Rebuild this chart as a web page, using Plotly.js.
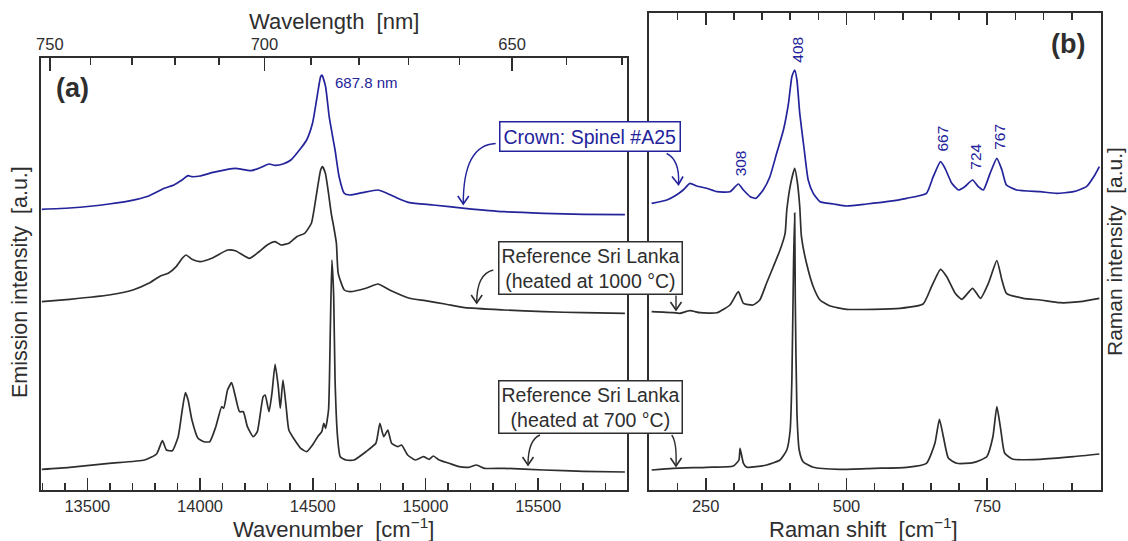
<!DOCTYPE html>
<html><head><meta charset="utf-8">
<script src="https://cdn.plot.ly/plotly-3.0.1.min.js"></script>
<style>html,body{margin:0;padding:0;background:#fff}#chart{width:1128px;height:541px}</style>
</head><body><div id="chart"></div>
<script>
// ---------- DATA (intensities in arbitrary units) ----------
// (a) Emission spectra: x = wavenumber [cm-1]
const crownEmWn = [13298,13421,13596,13719,13772,13842,13884,13920,13947,13964,14000,14052,14122,14157,14227,14271,14306,14333,14368,14403,14447,14473,14499,14517,14535,14541,14557,14573,14587,14599,14617,14640,14665,14719,14789,14824,14877,14929,15034,15175,15350,15525,15701,15885];
const crownEmI = [280.7,282,286,290.7,294,301.7,305,310,314.3,313.3,314,317.3,320.7,321.7,319.3,322.7,326,324.7,326,330,341.7,350,366.7,390,413.3,415,403.3,373.3,355,340,313.3,296.7,295,297.3,300,297.3,291.7,287.3,285,281.7,278.3,276.7,275.7,275.3];

const ref1000EmWn = [13298,13421,13596,13702,13772,13824,13859,13894,13921,13938,13964,14000,14052,14122,14157,14219,14262,14298,14333,14359,14394,14429,14464,14494,14508,14522,14535,14543,14556,14570,14582,14593,14605,14613,14640,14665,14736,14789,14841,14929,14999,15087,15175,15350,15525,15701,15885];
const ref1000EmI = [188.3,190.7,195,200,206.7,214,216.7,223.3,231.7,235,230.7,228.3,231.7,240,239.3,231.7,238.3,245,248.3,245,246.7,253.3,256.7,266.7,283.3,303.3,320,323.3,316.7,296.7,276.7,263.3,246.7,216.7,200,198.3,201.7,206,200,191.7,189.3,186,182.3,180,178.3,177.3,176.7];

const ref700EmWn = [13298,13421,13596,13754,13807,13833,13851,13877,13903,13921,13935,13947,13964,13991,14017,14043,14070,14096,14105,14122,14140,14157,14175,14192,14210,14236,14254,14280,14289,14306,14319,14333,14347,14356,14368,14382,14394,14420,14447,14473,14499,14522,14540,14549,14557,14570,14578,14585,14593,14599,14610,14622,14648,14683,14736,14780,14798,14815,14833,14850,14877,14894,14921,14956,14991,15017,15035,15061,15105,15149,15192,15227,15262,15350,15525,15701,15885];
const ref700EmI = [20.7,22.7,26.7,30,36,49.3,40,39.3,53.3,80,97.3,90,70,51.7,48.3,48.3,63.3,83.3,81.7,100,107.3,93.3,78.3,78.3,63.3,53.3,58.3,93.3,95,78.3,96.7,125.7,103.3,81.7,110,83.3,60,50,41.7,38.3,45,53.3,58.3,66.7,61.7,80,160,230,193.3,110,53.3,33.3,30,30,38.3,46.7,66.7,53.3,60,46.7,43.3,45,35,30,33.3,30.7,34,30,26.7,23.3,22.7,25,21.7,21.7,20,18.7,18];

// (b) Raman spectra: x = Raman shift [cm-1]
const crownRamX = [154,181,198,210,222,234,252,270,293,308,317,329,339,352,364,376,388,397,403,408,412,417,425,432,441,453,477,500,536,571,607,642,654,667,675,687,699,710,724,734,743,755,767,776,784,802,844,873,903,926,941,949];
const crownRamI = [286.7,290,295,300,306.7,304,301.7,298.3,298.3,306,300,293.3,291.7,300,313.3,336.7,360,386.7,413.3,420,410,376.7,340,310,296.7,288.3,286,284,286,288.3,291.7,296.7,313.3,328.3,321.7,306.7,300,303.3,310,303.3,300,316.7,331.7,320,305,300,298.3,296.7,298.3,303.3,315,323.3];

const ref1000RamX = [154,192,204,222,240,270,293,308,317,334,346,358,370,382,391,394,401,408,413,417,420,429,441,453,471,500,548,595,636,651,667,678,693,705,724,738,752,767,776,784,814,844,879,915,949];
const ref1000RamI = [178.3,177.3,176.7,179.3,177.3,177.3,185,198.3,186.7,185,190,206.7,223.3,240,256.7,280,306.7,321.7,306.7,283.3,253.3,226.7,203.3,190,184,180.7,180.7,181.7,186,203.3,220.7,213.3,196.7,190.7,201.7,191.7,206.7,229.3,210,196.7,191.7,190,187.3,188.3,191.7];

const ref700RamX = [154,192,252,299,309,311,317,323,358,382,394,400,403,406,408,409,412,416,423,441,488,548,607,642,657,665,672,681,696,725,749,760,767,774,781,796,844,903,949];
const ref700RamI = [20,21.7,22.7,24,30,41.7,26.7,22.7,25,30,40,60,110,227,277,193.3,76.7,40,28.3,22.7,20.7,21.7,22.7,26.7,46.7,70.7,53.3,31.7,26.7,27.3,33.3,53.3,83.3,60,36.7,30.7,30.7,33.3,36];

// Tick labels / peak labels
const wavenumberTicks = [13500,14000,14500,15000,15500];
const wavelengthTicks = [750,700,650];
const wavelengthMinor = [740,730,720,710,690,680,670,660,640,630];
const ramanTicks = [250,500,750];
const ramanPeaks = [308,408,667,724,767];
const emissionPeakLabel = '687.8 nm';

// ---------- STYLE / LAYOUT ----------
const W = 1128, H = 541;
const fx = p => p / W, fy = p => 1 - p / H;
const BLUE = '#23239b', DARK = '#2e2e2e';
const FONT = 'Liberation Sans, Arial, Helvetica, sans-serif';

const A = {x0: 40.7, x1: 626.7, y0: 58.3, y1: 490};
const B = {x0: 649, x1: 1100.7, y0: 13, y1: 490};
const wnRange = [13293, 15893];
const ramRange = [149.3, 951.4];
const yRangeA = [0, A.y1 - A.y0];
const yRangeB = [0, B.y1 - B.y0];

const line = (c) => ({color: c, width: 1.7, shape: 'spline', smoothing: 0.5});
const traces = [
  {x: crownEmWn, y: crownEmI, xaxis: 'x', yaxis: 'y', mode: 'lines', line: line(BLUE)},
  {x: ref1000EmWn, y: ref1000EmI, xaxis: 'x', yaxis: 'y', mode: 'lines', line: line(DARK)},
  {x: ref700EmWn, y: ref700EmI, xaxis: 'x', yaxis: 'y', mode: 'lines', line: line(DARK)},
  {x: wavelengthTicks.map(l => 1e7 / l), y: wavelengthTicks.map(() => null), xaxis: 'x3', yaxis: 'y', mode: 'lines', hoverinfo: 'skip'},
  {x: crownRamX, y: crownRamI, xaxis: 'x2', yaxis: 'y2', mode: 'lines', line: line(BLUE)},
  {x: ref1000RamX, y: ref1000RamI, xaxis: 'x2', yaxis: 'y2', mode: 'lines', line: line(DARK)},
  {x: ref700RamX, y: ref700RamI, xaxis: 'x2', yaxis: 'y2', mode: 'lines', line: line(DARK)}
];

const tickFont = {family: FONT, size: 16.5, color: DARK};
const baseX = {
  showgrid: false, zeroline: false, showline: true, linecolor: DARK, linewidth: 2.2,
  ticks: 'inside', ticklen: 12, tickwidth: 1.7, tickcolor: DARK, tickfont: tickFont
};
const minorStyle = {ticks: 'inside', ticklen: 7, tickwidth: 1.5, tickcolor: DARK, showgrid: false};
const baseY = {
  showgrid: false, zeroline: false, showline: true, linecolor: DARK, linewidth: 2.2,
  mirror: true, ticks: '', showticklabels: false
};

const ann = (text, x, y, o = {}) => Object.assign({
  text, xref: 'paper', yref: 'paper', x: fx(x), y: fy(y), showarrow: false,
  xanchor: 'center', yanchor: 'middle', font: {family: FONT, size: 22, color: DARK}
}, o);

const annotations = [
  ann('Wavelength\u00a0 [nm]', (A.x0 + A.x1) / 2, 22),
  ann('Wavenumber\u00a0 [cm<sup>\u22121</sup>]', (A.x0 + A.x1) / 2, 528),
  ann('Raman shift\u00a0 [cm<sup>\u22121</sup>]', 863, 528),
  ann('Emission intensity\u00a0 [a.u.]', 20, 282, {textangle: -90, font: {family: FONT, size: 21.5, color: DARK}}),
  ann('Raman intensity\u00a0 [a.u.]', 1114, 252, {textangle: -90, font: {family: FONT, size: 21, color: DARK}}),
  ann('<b>(a)</b>', 72, 88, {font: {family: FONT, size: 27, color: DARK}}),
  ann('<b>(b)</b>', 1068, 44, {font: {family: FONT, size: 27, color: DARK}}),
  ann(emissionPeakLabel, 333, 82, {xanchor: 'left', font: {family: FONT, size: 15, color: BLUE}}),
  ann('Crown: Spinel #A25', 590, 136.5, {font: {family: FONT, size: 19.5, color: BLUE},
      bordercolor: BLUE, borderwidth: 1.5, borderpad: 3, bgcolor: '#ffffff'}),
  ann('Reference Sri Lanka<br>(heated at 1000 \u00b0C)', 590, 268, {font: {family: FONT, size: 19.5, color: DARK},
      bordercolor: DARK, borderwidth: 1.5, borderpad: 2, bgcolor: '#ffffff'}),
  ann('Reference Sri Lanka<br>(heated at 700 \u00b0C)', 590, 406.5, {font: {family: FONT, size: 19.5, color: DARK},
      bordercolor: DARK, borderwidth: 1.5, borderpad: 2, bgcolor: '#ffffff'})
];
const peakLabelY = {308: 163, 408: 50, 667: 139, 724: 157, 767: 137};
ramanPeaks.forEach(p => annotations.push({
  text: String(p), xref: 'x2', yref: 'paper', x: p, y: fy(peakLabelY[p]), xshift: 2,
  showarrow: false, textangle: -90, xanchor: 'center', yanchor: 'middle',
  font: {family: FONT, size: 15.5, color: BLUE}
}));

// curved arrows (pixel geometry -> paper coords)
const P = (x, y) => `${fx(x)},${fy(y)}`;
const curve = (x0, y0, cx, cy, x1, y1, color) => ({
  type: 'path', xref: 'paper', yref: 'paper', layer: 'above',
  path: `M ${P(x0, y0)} Q ${P(cx, cy)} ${P(x1, y1)}`, line: {color, width: 1.4}
});
const head = (x, y, color, dx = 0) => ({
  type: 'path', xref: 'paper', yref: 'paper', layer: 'above',
  path: `M ${P(x - 5.5 + dx, y - 8)} L ${P(x, y)} L ${P(x + 5.5 + dx, y - 8)}`,
  line: {color, width: 1.6}
});
const shapes = [
  curve(495.7, 143.5, 463, 145, 463.3, 204, BLUE), head(463.3, 204, BLUE),
  curve(666.7, 153.5, 680, 160, 678.5, 184.5, BLUE), head(678.5, 184.5, BLUE, -1),
  curve(493.3, 270, 476.5, 274, 476.7, 303, DARK), head(476.7, 303, DARK),
  curve(676, 295.5, 676, 300, 676, 310, DARK), head(676, 310, DARK),
  curve(540, 435, 528, 440, 528, 465, DARK), head(528, 465, DARK),
  curve(671.7, 435, 677, 442, 676, 466, DARK), head(676, 466, DARK)
];

const layout = {
  width: W, height: H, margin: {l: 0, r: 0, t: 0, b: 0},
  paper_bgcolor: '#ffffff', plot_bgcolor: '#ffffff', showlegend: false,
  font: {family: FONT, color: DARK},
  xaxis: Object.assign({}, baseX, {
    domain: [fx(A.x0), fx(A.x1)], range: wnRange, anchor: 'y',
    tickmode: 'array', tickvals: wavenumberTicks, ticktext: wavenumberTicks.map(String),
    minor: Object.assign({dtick: 100, tick0: 13500}, minorStyle)
  }),
  xaxis3: Object.assign({}, baseX, {
    overlaying: 'x', side: 'top', anchor: 'y', range: wnRange, ticklen: 13,
    tickmode: 'array', tickvals: wavelengthTicks.map(l => 1e7 / l), ticktext: wavelengthTicks.map(String),
    minor: Object.assign({tickmode: 'array', tickvals: wavelengthMinor.map(l => 1e7 / l)}, minorStyle, {ticklen: 7})
  }),
  yaxis: Object.assign({}, baseY, {domain: [fy(A.y1), fy(A.y0)], range: yRangeA, anchor: 'x'}),
  xaxis2: Object.assign({}, baseX, {
    domain: [fx(B.x0), fx(B.x1)], range: ramRange, anchor: 'y2', mirror: 'ticks',
    tickmode: 'array', tickvals: ramanTicks, ticktext: ramanTicks.map(String),
    minor: Object.assign({dtick: 50, tick0: 250}, minorStyle)
  }),
  yaxis2: Object.assign({}, baseY, {domain: [fy(B.y1), fy(B.y0)], range: yRangeB, anchor: 'x2'}),
  annotations, shapes
};

Plotly.newPlot('chart', traces, layout, {displayModeBar: false, staticPlot: true});
</script>
</body></html>
